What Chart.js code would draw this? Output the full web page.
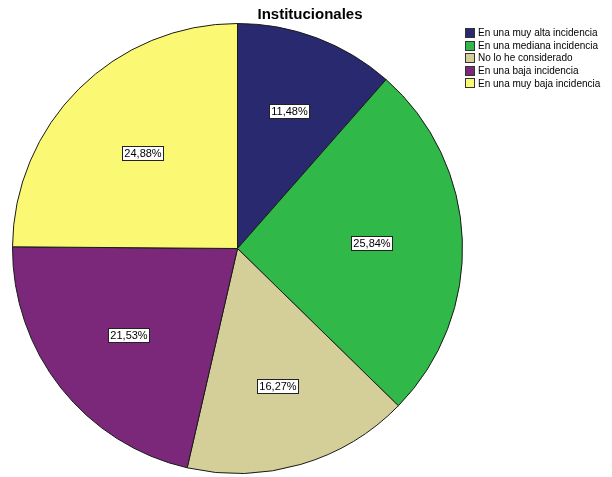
<!DOCTYPE html>
<html>
<head>
<meta charset="utf-8">
<script src="https://cdn.jsdelivr.net/npm/chart.js@4/dist/chart.umd.min.js"></script>
<style>
  html, body { margin: 0; padding: 0; background: #fff; }
  #wrap { width: 612px; height: 477px; }
</style>
</head>
<body>
<div id="wrap"><canvas id="pie" width="612" height="477"></canvas></div>
<script>
const chartTitle = 'Institucionales'
const categories = [
  'En una muy alta incidencia',
  'En una mediana incidencia',
  'No lo he considerado',
  'En una baja incidencia',
  'En una muy baja incidencia'
]
const percents = [11.48, 25.84, 16.27, 21.53, 24.88]
const sliceColors = ['#28296f', '#30b848', '#d4ce98', '#7b287b', '#fbf873']

const FONT = '"Liberation Sans", Arial, sans-serif'

// percentage boxes placed near each slice's centroid
const sliceLabels = {
  id: 'sliceLabels',
  afterDatasetsDraw(chart) {
    const ctx = chart.ctx
    const meta = chart.getDatasetMeta(0)
    ctx.save()
    ctx.font = '11px ' + FONT
    ctx.textAlign = 'center'
    ctx.textBaseline = 'middle'
    meta.data.forEach((arc, i) => {
      const p = arc.getProps(['x', 'y', 'startAngle', 'endAngle', 'outerRadius'], true)
      const half = (p.endAngle - p.startAngle) / 2
      const mid = p.startAngle + half
      const dist = 2 * p.outerRadius * Math.sin(half) / (3 * half)
      const cx = p.x + Math.cos(mid) * dist
      const cy = p.y + Math.sin(mid) * dist
      const txt = percents[i].toFixed(2).replace('.', ',') + '%'
      const w = Math.round(ctx.measureText(txt).width) + 4
      const h = 14
      const bx = Math.round(cx - w / 2) + 0.5
      const by = Math.round(cy - h / 2) + 0.5
      ctx.fillStyle = '#fff'
      ctx.fillRect(bx, by, w, h)
      ctx.strokeStyle = '#222'
      ctx.lineWidth = 1
      ctx.strokeRect(bx, by, w, h)
      ctx.fillStyle = '#000'
      ctx.fillText(txt, bx + w / 2, by + h / 2 + 0.5)
    })
    ctx.restore()
  }
}

// title and legend drawn in the free strip at the top right
const chrome = {
  id: 'chrome',
  afterDraw(chart) {
    const ctx = chart.ctx
    ctx.save()
    ctx.fillStyle = '#000'
    ctx.font = 'bold 15px ' + FONT
    ctx.textAlign = 'center'
    ctx.textBaseline = 'middle'
    ctx.fillText(chartTitle, 310, 15)

    ctx.font = '10px ' + FONT
    ctx.textAlign = 'left'
    chart.data.labels.forEach((lab, i) => {
      const y = 33 + i * 12.6
      ctx.fillStyle = sliceColors[i]
      ctx.fillRect(465, Math.round(y - 5), 10, 10)
      ctx.strokeStyle = '#333'
      ctx.lineWidth = 1
      ctx.strokeRect(465.5, Math.round(y - 5) + 0.5, 9, 9)
      ctx.fillStyle = '#000'
      ctx.fillText(lab, 478, y + 0.5)
    })
    ctx.restore()
  }
}

const ctx = document.getElementById('pie').getContext('2d')
new Chart(ctx, {
  type: 'pie',
  data: {
    labels: categories,
    datasets: [{
      data: percents,
      backgroundColor: sliceColors,
      borderColor: '#1a1a1a',
      borderWidth: 1
    }]
  },
  options: {
    responsive: false,
    animation: false,
    layout: { padding: { left: 12, top: 23, right: 149, bottom: 3 } },
    plugins: {
      legend: { display: false },
      tooltip: { enabled: false },
      title: { display: false }
    }
  },
  plugins: [sliceLabels, chrome]
})
</script>
</body>
</html>
